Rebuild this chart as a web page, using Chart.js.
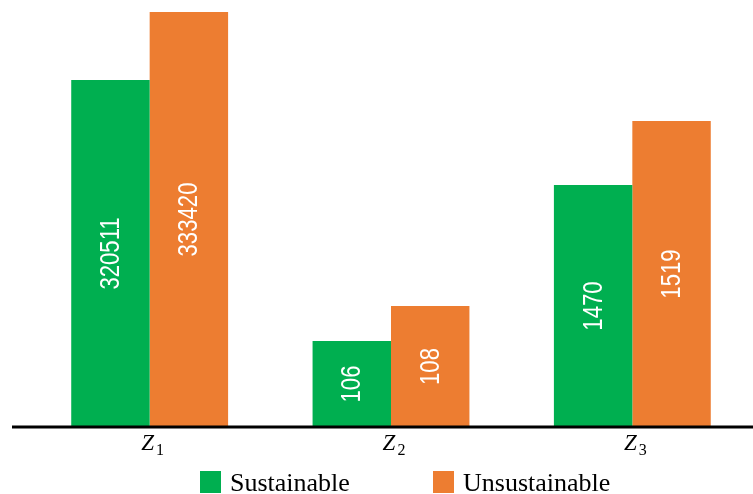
<!DOCTYPE html>
<html>
<head>
<meta charset="utf-8">
<script src="https://cdn.jsdelivr.net/npm/chart.js@4/dist/chart.umd.min.js"></script>
<style>
  html, body { margin: 0; padding: 0; background: #ffffff; }
  #wrap { width: 753px; height: 494px; position: relative; }
</style>
</head>
<body>
<div id="wrap"><canvas id="c" width="753" height="494"></canvas></div>
<script>
// ---- data ----
const categories = ['Z1', 'Z2', 'Z3'];
const categorySymbols = ['Z', 'Z', 'Z'];
const categorySubscripts = ['1', '2', '3'];
const seriesNames = ['Sustainable', 'Unsustainable'];
// numbers printed inside the bars
const valuesSustainable = [320511, 106, 1470];
const valuesUnsustainable = [333420, 108, 1519];
// bar heights as drawn in the reference (the figure has no value axis; each group is drawn on its own scale)
const heightSustainable = [347, 86, 242];
const heightUnsustainable = [415, 121, 306];
const heightAxisMax = 427;

const colorGreen = '#00AF50';
const colorOrange = '#ED7D31';

const decorPlugin = {
  id: 'decor',
  afterDatasetsDraw(chart) {
    const ctx = chart.ctx;
    const area = chart.chartArea;
    const labelSets = [valuesSustainable, valuesUnsustainable];
    // value labels inside bars (condensed sans, rotated)
    chart.data.datasets.forEach((ds, di) => {
      const meta = chart.getDatasetMeta(di);
      meta.data.forEach((bar, i) => {
        const p = bar.getProps(['x', 'y', 'base'], true);
        const cy = (p.y + p.base) / 2;
        ctx.save();
        ctx.translate(p.x, cy);
        ctx.rotate(-Math.PI / 2);
        ctx.scale(0.82, 1);
        ctx.fillStyle = '#ffffff';
        ctx.font = "27px 'Liberation Sans', Arial, sans-serif";
        ctx.textAlign = 'center';
        ctx.textBaseline = 'middle';
        ctx.fillText(String(labelSets[di][i]), 0, 1);
        ctx.restore();
      });
    });
    // baseline axis line
    ctx.save();
    ctx.strokeStyle = '#000000';
    ctx.lineWidth = 3;
    ctx.beginPath();
    ctx.moveTo(12, area.bottom);
    ctx.lineTo(chart.width, area.bottom);
    ctx.stroke();
    ctx.restore();
  },
  afterDraw(chart) {
    const ctx = chart.ctx;
    const xs = chart.scales.x;
    const area = chart.chartArea;
    const zFont = "italic 23px 'Liberation Serif', 'DejaVu Serif', serif";
    const sFont = "16px 'Liberation Serif', 'DejaVu Serif', serif";
    // category labels  Z with subscript
    categories.forEach((c, i) => {
      const cx = xs.getPixelForValue(i);
      ctx.save();
      ctx.fillStyle = '#000000';
      ctx.textBaseline = 'alphabetic';
      ctx.textAlign = 'left';
      ctx.font = zFont;
      const wz = ctx.measureText(categorySymbols[i]).width;
      ctx.font = sFont;
      const ws = ctx.measureText(categorySubscripts[i]).width;
      const total = wz + 2 + ws;
      const x0 = cx - total / 2 + 3;
      ctx.font = zFont;
      ctx.fillText(categorySymbols[i], x0, area.bottom + 23);
      ctx.font = sFont;
      ctx.fillText(categorySubscripts[i], x0 + wz + 2, area.bottom + 28);
      ctx.restore();
    });
    // legend
    const legendX = [200, 433];
    chart.data.datasets.forEach((ds, di) => {
      ctx.save();
      ctx.fillStyle = ds.backgroundColor;
      ctx.fillRect(legendX[di], 471, 21, 22);
      ctx.fillStyle = '#000000';
      ctx.font = "26px 'Liberation Serif', 'Times New Roman', serif";
      ctx.textAlign = 'left';
      ctx.textBaseline = 'alphabetic';
      ctx.fillText(ds.label, legendX[di] + 30, 491);
      ctx.restore();
    });
  }
};

new Chart(document.getElementById('c'), {
  type: 'bar',
  data: {
    labels: categories,
    datasets: [
      { label: seriesNames[0], data: heightSustainable, backgroundColor: colorGreen, borderWidth: 0 },
      { label: seriesNames[1], data: heightUnsustainable, backgroundColor: colorOrange, borderWidth: 0 }
    ]
  },
  options: {
    responsive: false,
    animation: false,
    devicePixelRatio: 1,
    layout: { padding: { left: 29, right: 0, top: 0, bottom: 494 - 427 } },
    datasets: { bar: { categoryPercentage: 0.65, barPercentage: 1.0 } },
    scales: {
      x: { display: false },
      y: { display: false, min: 0, max: heightAxisMax }
    },
    plugins: {
      legend: { display: false },
      tooltip: { enabled: false }
    }
  },
  plugins: [decorPlugin]
});
</script>
</body>
</html>
